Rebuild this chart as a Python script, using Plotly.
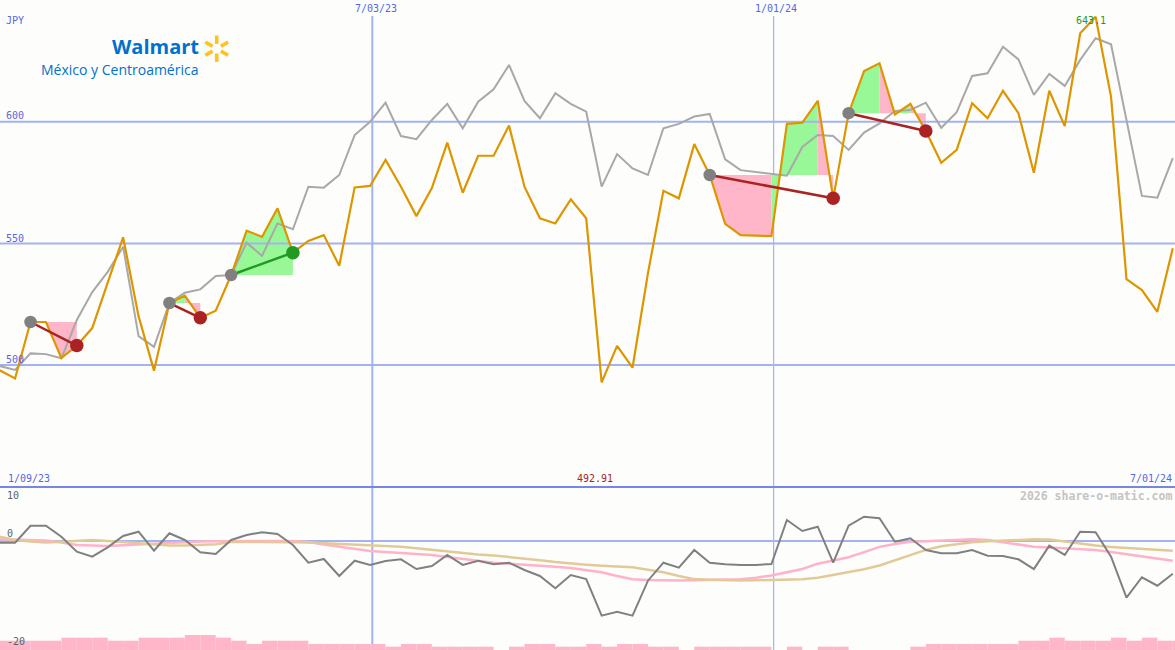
import math
import pandas as pd
import plotly.graph_objects as go

W, H = 1175, 650

# ---------------- data ----------------
start_date = "2023-01-15"
dates = list(pd.date_range(start_date, periods=77, freq="7D"))

price = [497.9, 494.5, 517.7, 517.7, 502.9, 508.0, 515.2, 533.7, 552.5, 520.1,
         497.7, 525.5, 528.5, 519.4, 522.3, 537.0, 555.2, 552.7, 564.4, 546.2,
         551.0, 553.4, 540.8, 573.0, 573.6, 584.3, 573.3, 561.2, 572.7, 591.4,
         570.8, 586.0, 586.0, 598.4, 573.3, 560.3, 558.2, 568.1, 560.3, 492.91,
         507.9, 498.9, 537.8, 571.6, 568.5, 590.8, 578.1, 558.0, 553.4, 553.2,
         553.0, 599.1, 599.6, 608.6, 568.5, 603.5, 620.8, 624.0, 603.0, 607.3,
         596.2, 583.1, 588.4, 607.6, 601.4, 612.7, 603.5, 579.0, 612.7, 598.2,
         636.3, 643.1, 610.2, 535.3, 530.8, 521.9, 548.0]

compare = [499.6, 498.0, 504.8, 504.5, 502.8, 518.5, 530.0, 538.3, 548.6, 511.9,
           507.5, 525.5, 529.7, 531.1, 536.6, 537.0, 550.3, 544.9, 558.2, 555.8,
           573.3, 572.9, 578.1, 594.5, 600.0, 607.8, 594.1, 592.8, 600.7, 607.3,
           597.3, 608.2, 613.3, 623.3, 608.5, 601.4, 611.7, 607.3, 604.1, 573.3,
           586.7, 580.8, 578.1, 597.3, 599.1, 602.1, 603.2, 584.5, 580.1, 579.4,
           578.8, 577.8, 589.6, 594.5, 594.1, 588.4, 595.5, 599.3, 604.4, 604.8,
           607.8, 597.5, 603.9, 618.8, 619.9, 630.8, 625.6, 611.0, 619.6, 614.7,
           625.4, 634.3, 631.8, 600.0, 569.5, 568.8, 585.0]

momentum = [-0.31, -0.31, 2.83, 2.83, 0.80, -1.98, -2.91, -1.17, 0.93, 1.72,
            -1.80, 1.43, 0.19, -2.09, -2.41, 0.19, 1.11, 1.61, 1.30, -0.74,
            -4.02, -3.33, -6.48, -3.65, -4.44, -3.70, -3.39, -5.19, -4.63, -2.59,
            -4.44, -3.65, -4.31, -4.02, -5.37, -6.48, -8.76, -6.30, -7.04, -13.83,
            -13.09, -13.83, -7.35, -4.02, -4.94, -1.67, -4.02, -4.31, -4.44, -4.44,
            -4.26, 3.89, 1.85, 2.65, -4.02, 2.83, 4.50, 4.20, -0.13, 0.50,
            -1.67, -2.28, -2.28, -1.67, -2.72, -2.78, -3.39, -5.19, -0.87, -2.59,
            1.72, 1.61, -2.91, -10.50, -6.72, -8.28, -6.06]

avg_fast = [0.31, 0.24, 0.15, 0.07, -0.28, -0.74, -0.83, -0.93, -0.78, -0.65,
            -0.52, -0.33, -0.15, -0.09, -0.04, 0.0, 0.0, 0.0, 0.0, 0.0,
            -0.19, -0.65, -1.07, -1.48, -1.85, -2.04, -2.19, -2.41, -2.59, -2.96,
            -3.33, -3.67, -4.02, -4.22, -4.37, -4.59, -4.78, -5.00, -5.37, -5.80,
            -6.48, -7.09, -7.22, -7.33, -7.31, -7.28, -7.26, -7.24, -7.09, -6.80,
            -6.39, -5.80, -5.19, -4.20, -3.59, -3.02, -2.06, -1.09, -0.54, -0.13,
            -0.04, 0.07, 0.19, 0.30, 0.20, -0.22, -0.67, -1.07, -1.20, -1.35,
            -1.50, -1.65, -2.06, -2.46, -2.87, -3.26, -3.65]

avg_slow = [0.80, 0.17, -0.11, -0.28, -0.13, 0.04, 0.17, -0.02, -0.20, -0.39,
            -0.61, -0.83, -0.85, -0.72, -0.59, -0.19, -0.17, -0.19, -0.20, -0.22,
            -0.30, -0.41, -0.52, -0.61, -0.72, -0.83, -1.07, -1.35, -1.65, -2.00,
            -2.33, -2.52, -2.67, -2.93, -3.24, -3.56, -3.91, -4.19, -4.39, -4.59,
            -4.72, -4.87, -5.33, -5.80, -6.48, -7.06, -7.17, -7.30, -7.33, -7.28,
            -7.20, -7.15, -7.07, -6.80, -6.26, -5.76, -5.24, -4.54, -3.61, -2.65,
            -1.65, -0.98, -0.56, -0.24, -0.07, 0.09, 0.19, 0.30, 0.28, -0.11,
            -0.48, -0.85, -1.09, -1.30, -1.46, -1.63, -1.80]

volume = [3.1, 3.1, 3.1, 3.1, 4.1, 4.1, 4.1, 3.1, 3.1, 4.1,
          4.1, 4.1, 5.0, 5.0, 4.1, 3.1, 2.0, 3.1, 3.1, 3.1,
          2.0, 2.0, 2.0, 2.0, 2.0, 1.1, 2.0, 2.0, 1.1, 1.1,
          1.1, 1.1, 0.0, 1.1, 2.0, 2.0, 1.1, 1.1, 2.0, 1.1,
          2.0, 2.0, 1.1, 1.1, 0.0, 1.1, 1.1, 1.1, 1.1, 1.1,
          0.0, 1.1, 0.0, 1.1, 1.1, 0.0, 0.0, 0.0, 0.0, 1.1,
          2.0, 2.0, 2.0, 2.0, 2.0, 2.0, 3.1, 3.1, 4.1, 3.1,
          3.1, 3.1, 4.1, 3.1, 4.1, 3.1, 3.1]

# trade signals: (entry index, exit index)
signals = [(2, 5), (11, 13), (15, 19), (46, 54), (55, 60)]

price_ticks = [500, 550, 600]
date_lines = ["2023-07-03", "2024-01-01"]
label_start, label_end = "1/09/23", "7/01/24"
label_lines = ["7/03/23", "1/01/24"]
min_label, max_label = "492.91", "643.1"

# ---------------- styles ----------------
BG = "#fdfefc"
BLUE_TXT = "#5566e6"
GRID = "#a3b2f0"
SEP = "#7585e8"
ORANGE = "#dd9600"
GRAYL = "#a8a8a8"
PINK = "#ffb6c8"
GREEN = "#98f898"
RED = "#aa2222"
DGREEN = "#229a22"
MONO = "DejaVu Sans Mono"

X_RANGE = ["2023-01-15 04:00", "2024-07-01 00:00"]
SPLIT = 163 / H  # bottom panel height fraction


def px(x):
    return x / W


def py(y):
    return 1 - y / H


fig = go.Figure()

# --- signal fills ---
for a, b in signals:
    L = price[a]
    groups = []
    s = a
    cur = price[a + 1] > L
    for i in range(a, b):
        c = price[i + 1] > L
        if c != cur:
            groups.append((s, i, cur))
            s = i
            cur = c
    groups.append((s, b, cur))
    for s, e, up in groups:
        xs = [dates[s]] + dates[s:e + 1] + [dates[e]]
        ys = [L] + price[s:e + 1] + [L]
        fig.add_trace(go.Scatter(x=xs, y=ys, fill="toself", mode="lines",
                                 fillcolor=GREEN if up else PINK,
                                 line=dict(width=0), hoverinfo="skip",
                                 showlegend=False, xaxis="x", yaxis="y"))

# --- horizontal gridlines (main) ---
for v in price_ticks:
    fig.add_trace(go.Scatter(x=X_RANGE, y=[v, v], mode="lines",
                             line=dict(color=GRID, width=2), hoverinfo="skip",
                             showlegend=False, xaxis="x", yaxis="y"))

# --- compare line and price line ---
fig.add_trace(go.Scatter(x=dates, y=compare, mode="lines",
                         line=dict(color=GRAYL, width=2), hoverinfo="skip",
                         showlegend=False, xaxis="x", yaxis="y"))
fig.add_trace(go.Scatter(x=dates, y=price, mode="lines",
                         line=dict(color=ORANGE, width=2.2), hoverinfo="skip",
                         showlegend=False, xaxis="x", yaxis="y"))

# --- signal lines and markers ---
for a, b in signals:
    up = price[b] > price[a]
    col = DGREEN if up else RED
    fig.add_trace(go.Scatter(x=[dates[a], dates[b]], y=[price[a], price[b]],
                             mode="lines", line=dict(color=col, width=2.5),
                             hoverinfo="skip", showlegend=False,
                             xaxis="x", yaxis="y"))
    fig.add_trace(go.Scatter(x=[dates[a]], y=[price[a]], mode="markers",
                             marker=dict(color="#808080", size=12.5),
                             hoverinfo="skip", showlegend=False,
                             xaxis="x", yaxis="y"))
    fig.add_trace(go.Scatter(x=[dates[b]], y=[price[b]], mode="markers",
                             marker=dict(color=col, size=13.5),
                             hoverinfo="skip", showlegend=False,
                             xaxis="x", yaxis="y"))

# --- bottom panel ---
fig.add_trace(go.Bar(x=dates, y=volume, offset=0, width=7 * 86400000,
                     marker=dict(color=PINK, line=dict(width=0)),
                     hoverinfo="skip", showlegend=False,
                     xaxis="x2", yaxis="y3"))
fig.add_trace(go.Scatter(x=X_RANGE, y=[0, 0], mode="lines",
                         line=dict(color=GRID, width=2), hoverinfo="skip",
                         showlegend=False, xaxis="x2", yaxis="y2"))
fig.add_trace(go.Scatter(x=dates, y=avg_fast, mode="lines",
                         line=dict(color="#ffb2c8", width=2.5), hoverinfo="skip",
                         showlegend=False, xaxis="x2", yaxis="y2"))
fig.add_trace(go.Scatter(x=dates, y=avg_slow, mode="lines",
                         line=dict(color="#e2ca98", width=2.5), hoverinfo="skip",
                         showlegend=False, xaxis="x2", yaxis="y2"))
fig.add_trace(go.Scatter(x=dates, y=momentum, mode="lines",
                         line=dict(color="#808080", width=2), hoverinfo="skip",
                         showlegend=False, xaxis="x2", yaxis="y2"))

# --- shapes ---
shapes = []
for d, w in zip(date_lines, [2, 1.2]):
    shapes.append(dict(type="line", xref="x", yref="paper", x0=d, x1=d,
                       y0=0, y1=py(16), line=dict(color=GRID, width=w),
                       layer="below"))
shapes.append(dict(type="line", xref="paper", yref="paper", x0=0, x1=1,
                   y0=py(487), y1=py(487), line=dict(color=SEP, width=2.2),
                   layer="above"))

# Walmart spark
cx, cy = 216.7, 48.7
for ang in [90, 30, -30, -90, 210, 150]:
    r = math.radians(ang)
    x0, y0 = cx + 4.8 * math.cos(r), cy - 4.8 * math.sin(r)
    x1, y1 = cx + 13.2 * math.cos(r), cy - 13.2 * math.sin(r)
    shapes.append(dict(type="line", xref="paper", yref="paper",
                       x0=px(x0), y0=py(y0), x1=px(x1), y1=py(y1),
                       line=dict(color="#ffc220", width=3.6), layer="above"))

# --- annotations ---
ann = []


def text(t, x, y, anchor="left", color=BLUE_TXT, size=10, family=MONO):
    ann.append(dict(text=t, x=px(x), y=py(y), xref="paper", yref="paper",
                    xanchor=anchor, yanchor="middle", showarrow=False,
                    borderpad=0,
                    font=dict(family=family, size=size, color=color)))


text("JPY", 5, 20.5)
for v, yy in zip(price_ticks, [359, 238, 116]):
    text(str(v), 5, yy)
text(label_lines[0], 375.5, 8.5, "center")
text(label_lines[1], 776, 8.5, "center")
text(label_start, 7, 478, "left")
text(label_end, 1172.5, 478, "right")
text(min_label, 595.3, 478, "center", color=RED)
text(max_label, 1091.3, 20.5, "center", color=DGREEN)
text("<b>2026 share-o-matic.com</b>", 1172.5, 495.5, "right",
     color="#c4c4c4", size=11.5)
text("10", 5.5, 495.5, "left", color="#606060")
text("0", 5.5, 533, "left", color="#606060")
text("-20", 5.5, 641.5, "left", color="#606060")

text("<b>Walmart</b>", 156, 47, "center", color="#0071ce", size=20,
     family="Open Sans")
text("México y Centroamérica", 119, 69, "center", color="#0071ce", size=14,
     family="Open Sans")

fig.update_layout(
    width=W, height=H, margin=dict(l=0, r=0, t=0, b=0),
    paper_bgcolor=BG, plot_bgcolor=BG, showlegend=False,
    xaxis=dict(type="date", range=X_RANGE, domain=[0, 1], visible=False,
               anchor="y"),
    xaxis2=dict(type="date", range=X_RANGE, domain=[0, 1], visible=False,
                anchor="y2", matches="x"),
    yaxis=dict(range=[449.9, 650.0], domain=[SPLIT, 1], visible=False),
    yaxis2=dict(range=[-20.19, 10.0], domain=[0, SPLIT], visible=False),
    yaxis3=dict(range=[0, 163 / 3], overlaying="y2", visible=False),
    shapes=shapes, annotations=ann, hovermode=False,
)

fig.write_html("out.html", config={"displayModeBar": False},
               post_script="document.body.style.margin='0px';"
                           "document.body.style.padding='0px';"
                           "document.body.style.overflow='hidden';")
